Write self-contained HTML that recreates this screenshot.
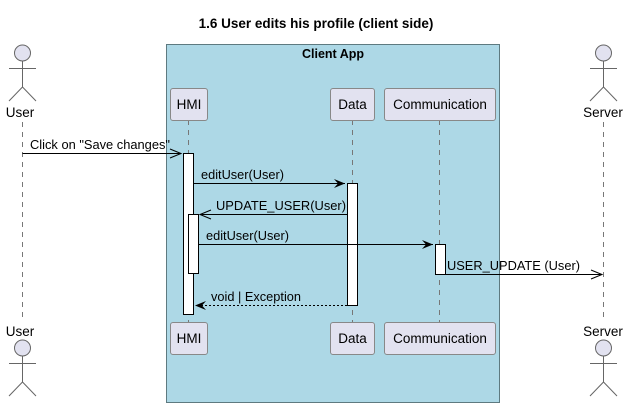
<!DOCTYPE html>
<html><head><style>body{margin:0;background:#fff}svg{display:block}text{font-family:"Liberation Sans",sans-serif}</style></head>
<body>
<svg width="627" height="408" viewBox="0 0 627 408" xmlns="http://www.w3.org/2000/svg">
<text x="316" y="28" font-size="13.5" font-weight="bold" text-anchor="middle">1.6 User edits his profile (client side)</text>
<rect x="166.5" y="44.5" width="333" height="358" fill="#ADD8E6" stroke="#5e7a80"/>
<text x="333" y="58" font-size="12.5" font-weight="bold" text-anchor="middle">Client App</text>
<g stroke="#777" stroke-dasharray="5,5" stroke-width="1">
<line x1="22.5" y1="122" x2="22.5" y2="322"/>
<line x1="188.5" y1="120" x2="188.5" y2="322"/>
<line x1="352.5" y1="120" x2="352.5" y2="322"/>
<line x1="439.5" y1="120" x2="439.5" y2="322"/>
<line x1="603.5" y1="122" x2="603.5" y2="322"/>
</g>
<g fill="#E2E2F0" stroke="#888" stroke-width="1">
<rect x="170.5" y="88.5" width="37" height="32" rx="2.5"/>
<rect x="330.5" y="88.5" width="44" height="32" rx="2.5"/>
<rect x="384.5" y="88.5" width="111" height="32" rx="2.5"/>
<rect x="170.5" y="322.5" width="37" height="32" rx="2.5"/>
<rect x="330.5" y="322.5" width="44" height="32" rx="2.5"/>
<rect x="384.5" y="322.5" width="111" height="32" rx="2.5"/>
</g>
<g font-size="13.5" text-anchor="middle" fill="#000">
<text x="189" y="109">HMI</text><text x="352.5" y="109">Data</text><text x="440" y="109">Communication</text>
<text x="189" y="343">HMI</text><text x="352.5" y="343">Data</text><text x="440" y="343">Communication</text>
<text x="20" y="117">User</text><text x="603" y="117">Server</text>
<text x="20" y="336">User</text><text x="603" y="336">Server</text>
</g>
<g fill="#E2E2F0" stroke="#666" stroke-width="1">
<circle cx="22.5" cy="53" r="8"/>
<circle cx="603.5" cy="53" r="8"/>
<circle cx="22.5" cy="348" r="8"/>
<circle cx="603.5" cy="348" r="8"/>
</g>
<g stroke="#666" fill="none" stroke-width="1">
<path d="M22.5 61V87M9 68.5H36M9 101L22.5 87L36 101"/>
<path d="M603.5 61V87M590 68.5H617M590 101L603.5 87L617 101"/>
<path d="M22.5 356V382M9 363.5H36M9 396L22.5 382L36 396"/>
<path d="M603.5 356V382M590 363.5H617M590 396L603.5 382L617 396"/>
</g>
<g fill="#fff" stroke="#000" stroke-width="1">
<rect x="183.5" y="153.5" width="10" height="161"/>
<rect x="188.5" y="214.5" width="10" height="59"/>
<rect x="347.5" y="183.5" width="10" height="122"/>
<rect x="435.5" y="244.5" width="10" height="30"/>
</g>
<g stroke="#000" stroke-width="1" fill="none">
<line x1="22.5" y1="153.5" x2="181" y2="153.5"/><path d="M170 149L181 153.5L170 158"/>
<line x1="193.5" y1="183.5" x2="345" y2="183.5"/>
<line x1="347" y1="214.5" x2="200" y2="214.5"/><path d="M211 210L200 214.5L211 219"/>
<line x1="198.5" y1="244.5" x2="433" y2="244.5"/>
<line x1="445.5" y1="274.5" x2="602" y2="274.5"/><path d="M591 270L602 274.5L591 279"/>
<line x1="347" y1="305.5" x2="196" y2="305.5" stroke-dasharray="2,2"/>
</g>
<g fill="#000">
<path d="M345 183.5L334 179L338 183.5L334 188Z"/>
<path d="M433 244.5L422 240L426 244.5L422 249Z"/>
<path d="M195 305.5L206 301L202 305.5L206 310Z"/>
</g>
<g font-size="13" fill="#000">
<text x="30" y="149" textLength="140" lengthAdjust="spacingAndGlyphs">Click on "Save changes"</text>
<text x="201" y="179" textLength="83" lengthAdjust="spacingAndGlyphs">editUser(User)</text>
<text x="216" y="210" textLength="130" lengthAdjust="spacingAndGlyphs">UPDATE_USER(User)</text>
<text x="206" y="240" textLength="83" lengthAdjust="spacingAndGlyphs">editUser(User)</text>
<text x="447" y="270" textLength="133" lengthAdjust="spacingAndGlyphs">USER_UPDATE (User)</text>
<text x="211" y="301" textLength="90" lengthAdjust="spacingAndGlyphs">void | Exception</text>
</g>
</svg>
</body></html>
